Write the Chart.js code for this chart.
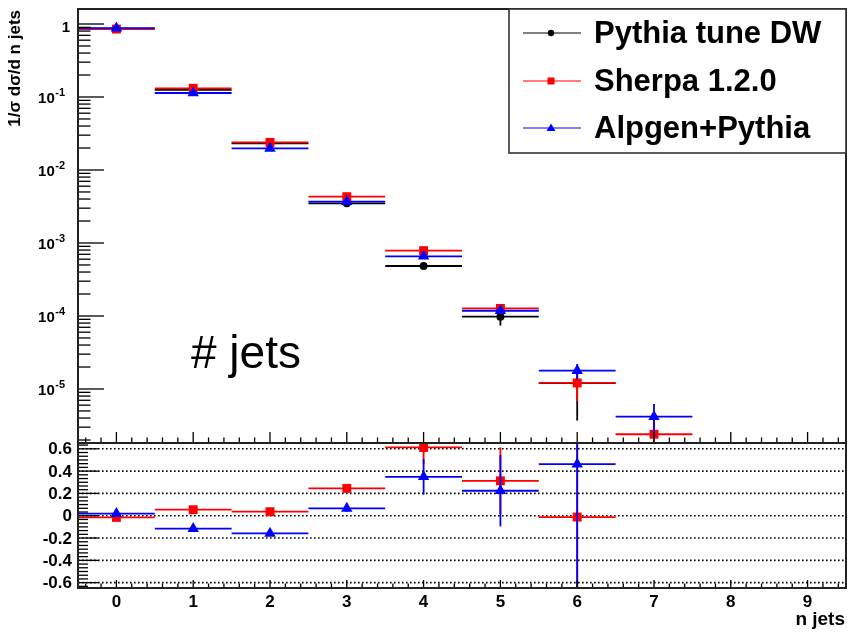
<!DOCTYPE html>
<html><head><meta charset="utf-8">
<script src="https://cdn.jsdelivr.net/npm/chart.js@4/dist/chart.umd.min.js"></script>
<style>
html,body{margin:0;padding:0;background:#fff;}
#wrap{position:relative;width:856px;height:634px;background:#fff;}
canvas{position:absolute;left:0;top:0;}
</style></head><body>
<div id="wrap"><canvas id="cTop" width="856" height="634"></canvas><canvas id="cBot" width="856" height="634"></canvas></div>
<script>
// ---------------- data ----------------
const bins = [0, 1, 2, 3, 4, 5, 6, 7, 8, 9];
const seriesNames = ['Pythia tune DW', 'Sherpa 1.2.0', 'Alpgen+Pythia'];
const seriesColors = ['#000000', '#ff0000', '#0000ff'];
// top panel: 1/sigma dsigma/dn
const pythia    = [0.862, 0.125, 0.0231, 0.0035, 4.84e-4, 9.8e-5, 1.2e-5, null, null, null];
const pythiaErr = [0.002, 0.0006, 0.00015, 0.00004, 1.2e-5, 2.4e-5, 8.3e-6, null, null, null];
const sherpa    = [0.852, 0.1316, 0.0239, 0.00431, 7.85e-4, 1.27e-4, 1.21e-5, 2.4e-6, null, null];
const sherpaErr = [0.002, 0.0006, 0.00015, 0.00004, 1.2e-5, 4e-6, 5.3e-6, 1.5e-6, null, null];
const alpgen    = [0.876, 0.1135, 0.0198, 0.00368, 6.57e-4, 1.18e-4, 1.78e-5, 4.17e-6, null, null];
const alpgenErr = [0.002, 0.0006, 0.00015, 0.00004, 1.2e-5, 4e-6, 4.2e-6, 2.06e-6, null, null];
// bottom panel: MC / Pythia - 1
const sherpaRatio    = [-0.015, 0.054, 0.036, 0.245, 0.612, 0.313, -0.012, null, null, null];
const sherpaRatioErr = [0.004, 0.006, 0.01, 0.03, 0.15, 0.30, 1.0, null, null, null];
const alpgenRatio    = [0.018, -0.116, -0.158, 0.066, 0.349, 0.224, 0.463, null, null, null];
const alpgenRatioErr = [0.004, 0.006, 0.01, 0.03, 0.16, 0.32, 1.2, null, null, null];
// tick labels
const xTickLabels = ['0', '1', '2', '3', '4', '5', '6', '7', '8', '9'];
const logDecades = [0, -1, -2, -3, -4, -5];
const ratioTickValues = [0.6, 0.4, 0.2, 0, -0.2, -0.4, -0.6];
const ratioTickLabels = ['0.6', '0.4', '0.2', '0', '-0.2', '-0.4', '-0.6'];
const yTitle = '1/\u03C3 d\u03C3/d n jets';
const xTitle = 'n jets';
const plotLabel = '# jets';

// ---------------- helpers ----------------
const FONT = '"Liberation Sans", Arial, Helvetica, sans-serif';
function pts(vals) {
  return bins.map((b, i) => vals[i] == null ? null : { x: b, y: vals[i] }).filter(Boolean);
}

const errBars = {
  id: 'errBars',
  beforeDatasetDraw(chart, args) {
    const ds = chart.data.datasets[args.index];
    if (!ds.vals) return;
    const ctx = chart.ctx, a = chart.chartArea, x = chart.scales.x, y = chart.scales.y;
    ctx.save();
    ctx.beginPath(); ctx.rect(a.left, a.top, a.right - a.left, a.bottom - a.top); ctx.clip();
    ctx.strokeStyle = ds.borderColor; ctx.lineWidth = 1.8;
    ds.vals.forEach((v, i) => {
      if (v == null) return;
      const cx = x.getPixelForValue(bins[i]);
      const py = y.getPixelForValue(v);
      ctx.beginPath();
      ctx.moveTo(x.getPixelForValue(bins[i] - 0.5), py);
      ctx.lineTo(x.getPixelForValue(bins[i] + 0.5), py);
      ctx.stroke();
      const e = ds.errs[i];
      if (e) {
        const lo = v - e, hi = v + e;
        const yl = (y.type === 'logarithmic' && lo <= 0) ? a.bottom + 5 : y.getPixelForValue(lo);
        const yh = y.getPixelForValue(hi);
        ctx.beginPath(); ctx.moveTo(cx, yh); ctx.lineTo(cx, yl); ctx.stroke();
      }
    });
    ctx.restore();
  }
};

function mkDs(name, vals, errs, color, style, radius, order) {
  return {
    label: name, data: pts(vals), vals: vals, errs: errs,
    borderColor: color, backgroundColor: color,
    pointStyle: style, pointRadius: radius, pointHoverRadius: radius,
    pointBorderWidth: 0, showLine: false, order: order
  };
}

// ---------------- top chart ----------------
const topAxes = {
  id: 'topAxes',
  afterDraw(chart) {
    const ctx = chart.ctx, a = chart.chartArea, x = chart.scales.x, y = chart.scales.y;
    ctx.save();
    ctx.strokeStyle = '#000'; ctx.lineWidth = 1.3;
    // y ticks (log)
    for (let d = -7; d <= 1; d++) {
      for (let k = 1; k <= 9; k++) {
        const v = k * Math.pow(10, d);
        if (v < y.min || v > y.max) continue;
        const py = y.getPixelForValue(v);
        const len = k === 1 ? 26 : 12.5;
        ctx.beginPath(); ctx.moveTo(a.left, py); ctx.lineTo(a.left + len, py); ctx.stroke();
      }
    }
    // x ticks (pointing up from bottom)
    for (let n = -2; n <= 47; n++) {
      const v = n / 5;
      const px = x.getPixelForValue(v);
      const len = n % 5 === 0 ? 11 : 5.5;
      ctx.beginPath(); ctx.moveTo(px, a.bottom); ctx.lineTo(px, a.bottom - len); ctx.stroke();
    }
    // frame
    ctx.lineWidth = 2; ctx.strokeStyle = '#222';
    ctx.strokeRect(a.left, a.top, a.right - a.left, a.bottom - a.top);
    // y labels
    ctx.fillStyle = '#000';
    logDecades.forEach(d => {
      const py = y.getPixelForValue(Math.pow(10, d));
      if (d === 0) {
        ctx.font = 'bold 15px ' + FONT; ctx.textAlign = 'right'; ctx.textBaseline = 'alphabetic';
        ctx.fillText('1', 70, py + 8);
      } else {
        const ex = String(d);
        ctx.font = 'bold 11px ' + FONT;
        const ew = ctx.measureText(ex).width;
        ctx.textAlign = 'left'; ctx.textBaseline = 'alphabetic';
        ctx.fillText(ex, 65 - ew, py - 0.5);
        ctx.font = 'bold 15px ' + FONT; ctx.textAlign = 'right';
        ctx.fillText('10', 64.5 - ew, py + 6.5);
      }
    });
    // y title
    ctx.save();
    ctx.translate(20, 10); ctx.rotate(-Math.PI / 2);
    ctx.font = 'bold 17px ' + FONT; ctx.textAlign = 'right'; ctx.textBaseline = 'alphabetic';
    ctx.fillText(yTitle, 0, 0);
    ctx.restore();
    // plot label
    ctx.font = '46px ' + FONT; ctx.textAlign = 'left'; ctx.textBaseline = 'alphabetic';
    ctx.fillText(plotLabel, 191, 368);
    // legend box
    const L = 509, T = a.top, R = a.right, B = 153;
    ctx.fillStyle = '#fff'; ctx.fillRect(L, T, R - L, B - T);
    ctx.strokeStyle = '#333'; ctx.lineWidth = 1.6;
    ctx.strokeRect(L, T, R - L, B - T);
    const rows = [33, 81, 128];
    const styles = ['circle', 'rect', 'triangle'];
    seriesNames.forEach((nm, i) => {
      const ry = rows[i];
      ctx.strokeStyle = seriesColors[i]; ctx.lineWidth = 1.1;
      ctx.beginPath(); ctx.moveTo(523, ry); ctx.lineTo(581, ry); ctx.stroke();
      ctx.fillStyle = seriesColors[i];
      ctx.beginPath();
      if (styles[i] === 'circle') { ctx.arc(551, ry, 3.2, 0, Math.PI * 2); }
      else if (styles[i] === 'rect') { ctx.rect(547.5, ry - 3.5, 7, 7); }
      else { ctx.moveTo(551, ry - 4.5); ctx.lineTo(555.5, ry + 3); ctx.lineTo(546.5, ry + 3); ctx.closePath(); }
      ctx.fill();
      ctx.fillStyle = '#000';
      ctx.font = 'bold 31px ' + FONT; ctx.textAlign = 'left'; ctx.textBaseline = 'middle';
      ctx.fillText(nm, 594, ry + 1);
    });
    ctx.restore();
  }
};

new Chart(document.getElementById('cTop'), {
  type: 'scatter',
  data: {
    datasets: [
      mkDs(seriesNames[0], pythia, pythiaErr, seriesColors[0], 'circle', 4, 3),
      mkDs(seriesNames[1], sherpa, sherpaErr, seriesColors[1], 'rect', 6.3, 2),
      mkDs(seriesNames[2], alpgen, alpgenErr, seriesColors[2], 'triangle', 6.6, 1)
    ]
  },
  options: {
    responsive: false, animation: false, devicePixelRatio: 1, events: [],
    layout: { padding: { left: 78, top: 9, right: 10, bottom: 191 } },
    plugins: { legend: { display: false }, tooltip: { enabled: false } },
    scales: {
      x: { type: 'linear', min: -0.5, max: 9.5, display: false },
      y: { type: 'logarithmic', min: 1.82e-6, max: 1.605, display: false }
    }
  },
  plugins: [errBars, topAxes]
});

// ---------------- bottom chart ----------------
const botAxes = {
  id: 'botAxes',
  beforeDatasetsDraw(chart) {
    const ctx = chart.ctx, a = chart.chartArea, y = chart.scales.y;
    ctx.save();
    ctx.strokeStyle = '#000'; ctx.lineWidth = 1.6; ctx.setLineDash([1.6, 2.4]);
    ratioTickValues.forEach(v => {
      const py = y.getPixelForValue(v);
      ctx.beginPath(); ctx.moveTo(a.left, py); ctx.lineTo(a.right, py); ctx.stroke();
    });
    ctx.restore();
  },
  afterDraw(chart) {
    const ctx = chart.ctx, a = chart.chartArea, x = chart.scales.x, y = chart.scales.y;
    ctx.save();
    ctx.strokeStyle = '#000'; ctx.lineWidth = 1.3;
    // y ticks
    for (let n = -24; n <= 24; n++) {
      const v = n * 0.2 / 6;
      if (v < y.min || v > y.max) continue;
      const py = y.getPixelForValue(v);
      const len = n % 6 === 0 ? 20 : 10;
      ctx.beginPath(); ctx.moveTo(a.left, py); ctx.lineTo(a.left + len, py); ctx.stroke();
    }
    // x ticks
    for (let n = -2; n <= 47; n++) {
      const v = n / 5;
      const px = x.getPixelForValue(v);
      const len = n % 5 === 0 ? 8 : 4.5;
      ctx.beginPath(); ctx.moveTo(px, a.bottom); ctx.lineTo(px, a.bottom - len); ctx.stroke();
    }
    // frame
    ctx.lineWidth = 2; ctx.strokeStyle = '#222';
    ctx.strokeRect(a.left, a.top, a.right - a.left, a.bottom - a.top);
    // labels
    ctx.fillStyle = '#000';
    ctx.font = 'bold 17px ' + FONT; ctx.textAlign = 'right'; ctx.textBaseline = 'middle';
    ratioTickValues.forEach((v, i) => {
      ctx.fillText(ratioTickLabels[i], 72, y.getPixelForValue(v) + 1);
    });
    ctx.textAlign = 'center'; ctx.textBaseline = 'alphabetic';
    bins.forEach((b, i) => {
      ctx.fillText(xTickLabels[i], x.getPixelForValue(b), 607);
    });
    ctx.font = 'bold 19px ' + FONT; ctx.textAlign = 'right';
    ctx.fillText(xTitle, 845, 625);
    ctx.restore();
  }
};

new Chart(document.getElementById('cBot'), {
  type: 'scatter',
  data: {
    datasets: [
      mkDs(seriesNames[1], sherpaRatio, sherpaRatioErr, seriesColors[1], 'rect', 6.3, 2),
      mkDs(seriesNames[2], alpgenRatio, alpgenRatioErr, seriesColors[2], 'triangle', 6.6, 1)
    ]
  },
  options: {
    responsive: false, animation: false, devicePixelRatio: 1, events: [],
    layout: { padding: { left: 78, top: 443, right: 10, bottom: 46 } },
    plugins: { legend: { display: false }, tooltip: { enabled: false } },
    scales: {
      x: { type: 'linear', min: -0.5, max: 9.5, display: false },
      y: { type: 'linear', min: -0.648, max: 0.652, display: false }
    }
  },
  plugins: [errBars, botAxes]
});
</script>
</body></html>
